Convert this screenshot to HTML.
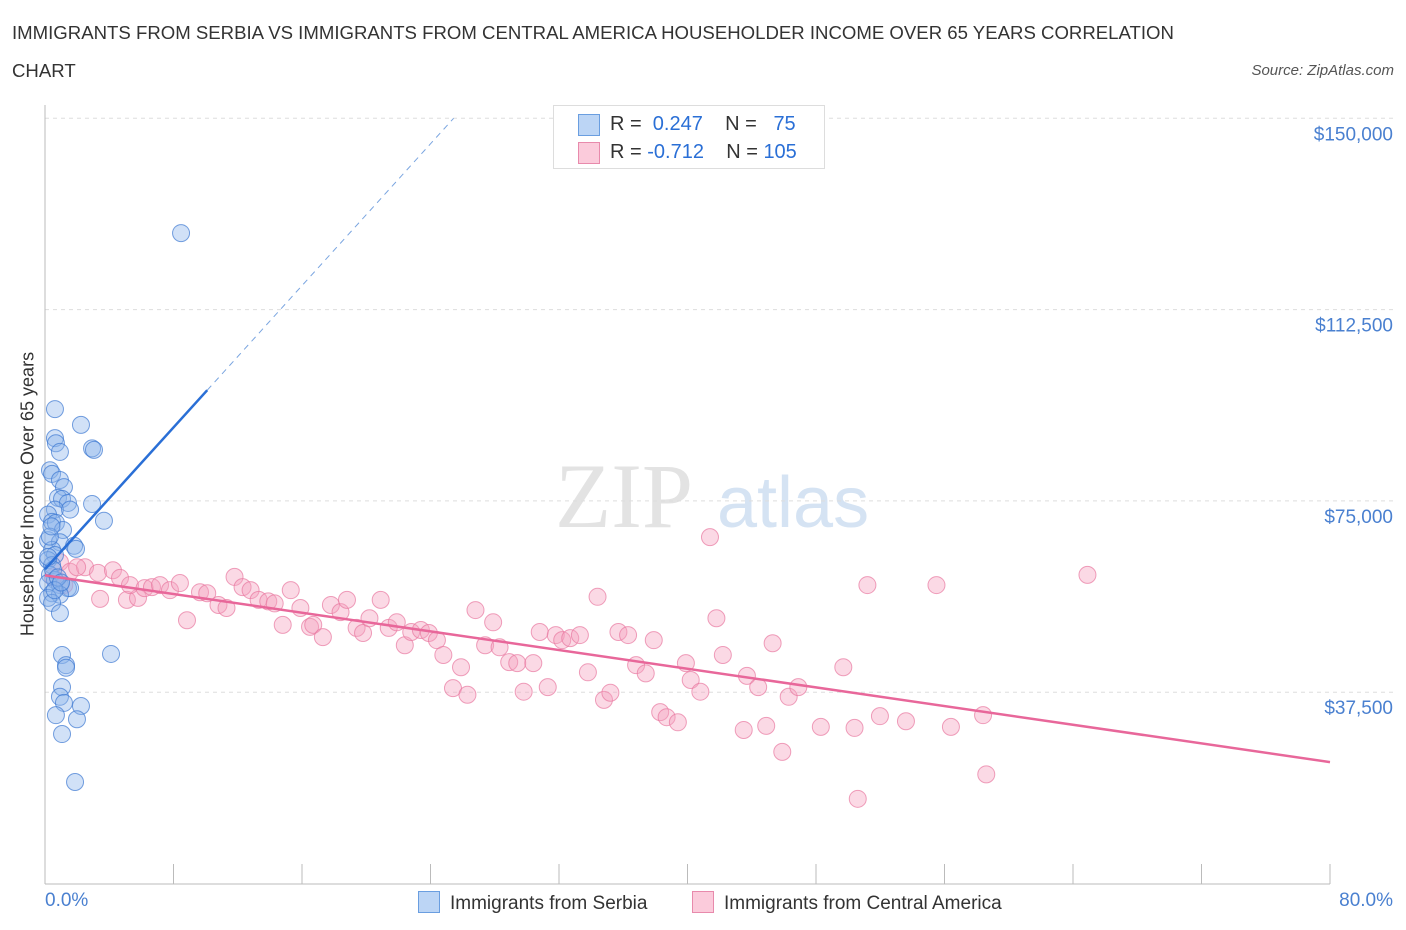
<!DOCTYPE html>
<html><head><meta charset="utf-8"><style>
body{margin:0;background:#fff;font-family:"Liberation Sans",sans-serif;}
#wrap{position:relative;width:1406px;height:930px;overflow:hidden;}
.t{position:absolute;white-space:nowrap;}
</style></head><body>
<div id="wrap">
<div class="t" style="left:12px;top:14px;font-size:18.6px;color:#333;line-height:38px;">IMMIGRANTS FROM SERBIA VS IMMIGRANTS FROM CENTRAL AMERICA HOUSEHOLDER INCOME OVER 65 YEARS CORRELATION<br>CHART</div>
<div class="t" style="right:12px;top:62px;font-size:15px;color:#555;font-style:italic;">Source: ZipAtlas.com</div>
<svg id="svg" width="1406" height="930" style="position:absolute;left:0;top:0"></svg>
</div>
<script>
const yTicks=[37500,75000,112500,150000];
const yTickLabels=["$37,500","$75,000","$112,500","$150,000"];
const serbiaX=[8.47,0.62,2.24,0.62,0.68,2.93,3.05,0.93,0.31,0.44,0.93,1.18,0.81,1.06,1.43,2.93,0.62,1.56,0.19,3.67,0.44,0.68,1.12,0.19,0.93,1.81,0.44,1.93,0.62,0.19,0.44,0.31,0.62,0.19,0.93,1.43,1.56,0.44,0.93,0.19,0.44,0.93,1.06,1.31,1.31,4.11,1.06,0.93,1.18,2.24,0.68,1.99,1.06,1.87,0.3,0.5,0.8,0.2,0.6,1.0,0.4];
const serbiaY=[127500,93000,89900,87300,86300,85300,85000,84600,81000,80300,79100,77700,75600,75400,74600,74400,73300,73300,72300,71100,70900,70700,69300,67300,66900,66200,65400,65600,64400,63400,62400,60500,59500,58900,58500,57900,57900,56900,56600,56000,55000,53000,44800,42800,42300,45000,38500,36600,35400,34800,33000,32200,29300,19900,68000,61500,60000,64000,57500,59000,70000];
const caX=[0.93,1.56,2.49,3.3,4.23,3.43,4.67,5.1,5.79,5.29,6.2,6.66,7.16,7.78,8.4,8.84,9.65,10.1,10.8,11.3,11.8,12.3,12.8,13.3,13.9,14.3,14.8,15.3,15.9,16.5,16.7,17.3,17.8,18.4,18.8,19.4,19.8,20.2,20.9,21.4,21.9,22.4,22.8,23.4,23.9,24.4,24.8,25.4,25.9,26.3,26.8,27.4,27.9,28.3,28.9,29.4,29.8,30.4,30.8,31.3,31.8,32.2,32.7,33.3,33.8,34.4,34.8,35.2,35.7,36.3,36.8,37.4,37.9,38.3,38.7,39.4,39.9,40.2,40.8,41.4,41.8,42.2,43.5,43.7,44.4,44.9,45.3,45.9,46.3,46.9,48.3,49.7,50.4,50.6,51.2,51.98,53.6,55.5,56.4,58.4,58.6,64.9,0.5,1.2,2.0];
const caY=[63000,61100,62000,60900,61400,55800,59900,55600,56000,58500,57900,58100,58500,57500,58900,51600,57100,56900,54600,54000,60100,58100,57500,55600,55300,54900,50700,57500,54000,50300,50700,48300,54600,53200,55600,50100,49100,52000,55600,50100,51200,46700,49300,49700,49100,47700,44800,38300,42400,37000,53600,46700,51200,46300,43400,43200,37600,43200,49300,38500,48700,47700,48100,48700,41400,56200,36000,37400,49300,48700,42800,41200,47700,33600,32600,31600,43200,39900,37600,67900,52000,44800,30100,40700,38500,30900,47100,25800,36600,38500,30700,42400,30500,16600,58500,32800,31800,58500,30700,33000,21400,60500,60000,58500,62000];
const serbiaTrend=[61600,3475];
const caTrend=[60400,-457.5];
const NS="http://www.w3.org/2000/svg";
const svg=document.getElementById('svg');
const X0=45,X1=1330,Y0=883.5;
const sx=v=>X0+(v/80)*(X1-X0);
const sy=v=>Y0-v/37500*191.3;
function mk(tag,attrs,parent){const e=document.createElementNS(NS,tag);for(const k in attrs)e.setAttribute(k,attrs[k]);(parent||svg).appendChild(e);return e;}
let wm=mk('text',{x:555,y:527,'font-size':92,'font-family':'Liberation Serif,serif',fill:'#e3e3e3'});wm.textContent='ZIP';


let wm2=mk('text',{x:717,y:527,'font-size':72,'font-family':'Liberation Sans,sans-serif',fill:'#d5e3f3'});wm2.textContent='atlas';


yTicks.forEach((t,i)=>{const y=sy(t);
 let g=mk('line',{x1:X0,x2:1395,y1:y,y2:y,stroke:'#ddd','stroke-dasharray':'4,4'});
 
 
 let tx=mk('text',{x:1393,y:y+22,'text-anchor':'end','font-size':19,fill:'#4a80d0'});tx.textContent=yTickLabels[i];
 
 
});
let ax=mk('line',{x1:X0,x2:X0,y1:105,y2:884,stroke:'#bbb'});


let bx=mk('line',{x1:X0,x2:X1,y1:884,y2:884,stroke:'#bbb'});


for(let i=0;i<=10;i++){const x=sx(i*8);let tk=mk('line',{x1:x,x2:x,y1:864,y2:884,stroke:'#bbb'});
 
 }
caX.forEach((v,i)=>{let c=mk('circle',{cx:sx(v),cy:sy(caY[i]),r:8.5,fill:'rgba(244,160,190,0.4)',stroke:'rgba(232,120,160,0.7)','stroke-width':1});
 
 });
serbiaX.forEach((v,i)=>{let c=mk('circle',{cx:sx(v),cy:sy(serbiaY[i]),r:8.5,fill:'rgba(140,180,235,0.4)',stroke:'rgba(60,120,210,0.7)','stroke-width':1});
 
 });
const bt=x=>serbiaTrend[0]+serbiaTrend[1]*x;
let l1=mk('line',{x1:sx(0),y1:sy(bt(0)),x2:sx(10.1),y2:sy(bt(10.1)),stroke:'#2a6fd6','stroke-width':2.5});


const xe=(150000-serbiaTrend[0])/serbiaTrend[1];
let l2=mk('line',{x1:sx(10.1),y1:sy(bt(10.1)),x2:sx(xe),y2:sy(bt(xe)),stroke:'#7aa5e0','stroke-width':1,'stroke-dasharray':'6,5'});


const pt=x=>caTrend[0]+caTrend[1]*x;
let l3=mk('line',{x1:sx(0),y1:sy(pt(0)),x2:sx(80),y2:sy(pt(80)),stroke:'#e8679a','stroke-width':2.5});


</script>
<div class="t" style="left:28px;top:494px;font-size:18px;color:#333;transform:translate(-50%,-50%) rotate(-90deg);">Householder Income Over 65 years</div>
<div class="t" style="left:45px;top:890px;font-size:19px;color:#4a80d0;">0.0%</div>
<div class="t" style="right:13px;top:890px;font-size:19px;color:#4a80d0;">80.0%</div>
<div style="position:absolute;left:553px;top:105px;width:270px;height:62px;border:1px solid #ddd;background:#fff;font-size:20px;color:#333;">
 <div style="position:absolute;left:24px;top:8px;width:20px;height:20px;background:#bcd5f5;border:1px solid #6a9ee0;"></div>
 <div class="t" style="left:56px;top:7px;">R = &nbsp;<span style="color:#2a6fd6">0.247</span>&nbsp;&nbsp;&nbsp; N = &nbsp;&nbsp;<span style="color:#2a6fd6">75</span></div>
 <div style="position:absolute;left:24px;top:36px;width:20px;height:20px;background:#fbcbdb;border:1px solid #e88aac;"></div>
 <div class="t" style="left:56px;top:35px;">R = <span style="color:#2a6fd6">-0.712</span>&nbsp;&nbsp;&nbsp; N = <span style="color:#2a6fd6">105</span></div>
</div>
<div style="position:absolute;left:418px;top:891px;font-size:19px;color:#333;">
 <span style="display:inline-block;width:20px;height:20px;background:#bcd5f5;border:1px solid #6a9ee0;vertical-align:-4px;margin-right:10px;"></span>Immigrants from Serbia</div>
<div style="position:absolute;left:692px;top:891px;font-size:19px;color:#333;">
 <span style="display:inline-block;width:20px;height:20px;background:#fbcbdb;border:1px solid #e88aac;vertical-align:-4px;margin-right:10px;"></span>Immigrants from Central America</div>
</body></html>
